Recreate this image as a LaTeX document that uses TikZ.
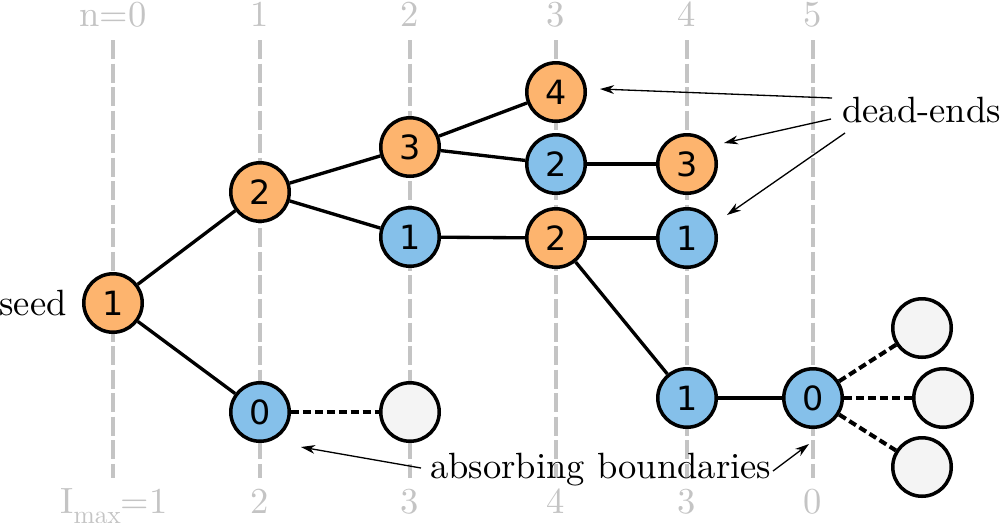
\documentclass[tikz,border=0pt]{standalone}
\usepackage{fontspec}
\newfontfamily\digitfont{DejaVu Sans}
\newfontfamily\labelfont{lmroman10-regular}[Extension=.otf]
\usetikzlibrary{arrows.meta}
\definecolor{orangefill}{RGB}{253,180,110}
\definecolor{bluefill}{RGB}{133,192,234}
\definecolor{emptyfill}{RGB}{244,244,244}
\definecolor{gridgray}{RGB}{196,196,196}
\tikzset{
  state/.style={circle, draw=black, line width=2pt, minimum size=1.17cm, inner sep=0pt,
    font=\digitfont\fontsize{19}{19}\selectfont},
  orangestate/.style={state, fill=orangefill},
  bluestate/.style={state, fill=bluefill},
  emptystate/.style={state, fill=emptyfill},
  link/.style={line width=1.9pt},
  deadlink/.style={line width=2.3pt, dash pattern=on 4.5pt off 2.3pt},
  gridline/.style={gridgray, line width=2pt, dash pattern=on 10.8pt off 2.6pt},
  gridlabel/.style={text=gridgray, anchor=base, inner sep=0pt, font=\labelfont\fontsize{20.8}{24}\selectfont},
  annot/.style={inner sep=0pt, font=\labelfont\fontsize{20.8}{24}\selectfont},
  annotarrow/.style={line width=0.75pt, -{Stealth[length=8pt, width=5pt, inset=2.5pt]}}
}
\begin{document}
\begin{tikzpicture}[x=0.02cm, y=-0.02cm]
\useasboundingbox (0,0) rectangle (1000,522);
% grid lines
\foreach \x in {113,260,410,556,687,813} {
  \draw[gridline] (\x,40) -- (\x,478);
}
% top labels
\node[gridlabel] (t0) at (113,26) {n=0};
\node[gridlabel] (t1) at (260,26) {1};
\node[gridlabel] (t2) at (410,26) {2};
\node[gridlabel] (t3) at (556,26) {3};
\node[gridlabel] (t4) at (687,26) {4};
\node[gridlabel] (t5) at (813,26) {5};
% bottom labels
\node[gridlabel] (b0) at (114,513) {I\raisebox{-0.3em}{\fontsize{14.5}{15}\selectfont max}=1};
\node[gridlabel] (b1) at (260,513) {2};
\node[gridlabel] (b2) at (410,513) {3};
\node[gridlabel] (b3) at (556,513) {4};
\node[gridlabel] (b4) at (687,513) {3};
\node[gridlabel] (b5) at (813,513) {0};
% nodes
\node[orangestate] (s) at (113,303) {1};
\node[orangestate] (a) at (260,192) {2};
\node[bluestate]   (b) at (260,412) {0};
\node[orangestate] (c) at (410,147) {3};
\node[bluestate]   (d) at (410,237) {1};
\node[emptystate]  (e) at (410,412) {};
\node[orangestate] (f) at (556,92) {4};
\node[bluestate]   (g) at (556,164) {2};
\node[orangestate] (h) at (556,238) {2};
\node[orangestate] (i) at (687,164) {3};
\node[bluestate]   (j) at (687,238) {1};
\node[bluestate]   (k) at (687,398) {1};
\node[bluestate]   (l) at (813,398) {0};
\node[emptystate]  (m) at (922,328) {};
\node[emptystate]  (o) at (943,398) {};
\node[emptystate]  (p) at (922,467) {};
% edges
\draw[link] (s) -- (a);
\draw[link] (s) -- (b);
\draw[link] (a) -- (c);
\draw[link] (a) -- (d);
\draw[link] (c) -- (f);
\draw[link] (c) -- (g);
\draw[link] (g) -- (i);
\draw[link] (d) -- (h);
\draw[link] (h) -- (j);
\draw[link] (h) -- (k);
\draw[link] (k) -- (l);
\draw[deadlink] (b) -- (e);
\draw[deadlink] (l) -- (m);
\draw[deadlink] (l) -- (o);
\draw[deadlink] (l) -- (p);
% annotations
\node[annot, anchor=base east] (seed) at (67,315) {seed};
\node[annot, anchor=base west] (dead) at (842,122) {dead-ends};
\node[annot, anchor=base west] (abs) at (430,478) {absorbing boundaries};
\coordinate (d1s) at (832,98);
\coordinate (d1e) at (600,89);
\coordinate (d2s) at (831,119);
\coordinate (d2e) at (724,143);
\coordinate (d3s) at (845,133);
\coordinate (d3e) at (727,215);
\coordinate (a1s) at (421,468);
\coordinate (a1e) at (301,447);
\coordinate (a2s) at (773,471);
\coordinate (a2e) at (809,444);
\draw[annotarrow] (d1s) -- (d1e);
\draw[annotarrow] (d2s) -- (d2e);
\draw[annotarrow] (d3s) -- (d3e);
\draw[annotarrow] (a1s) -- (a1e);
\draw[annotarrow] (a2s) -- (a2e);
\end{tikzpicture}
\end{document}
